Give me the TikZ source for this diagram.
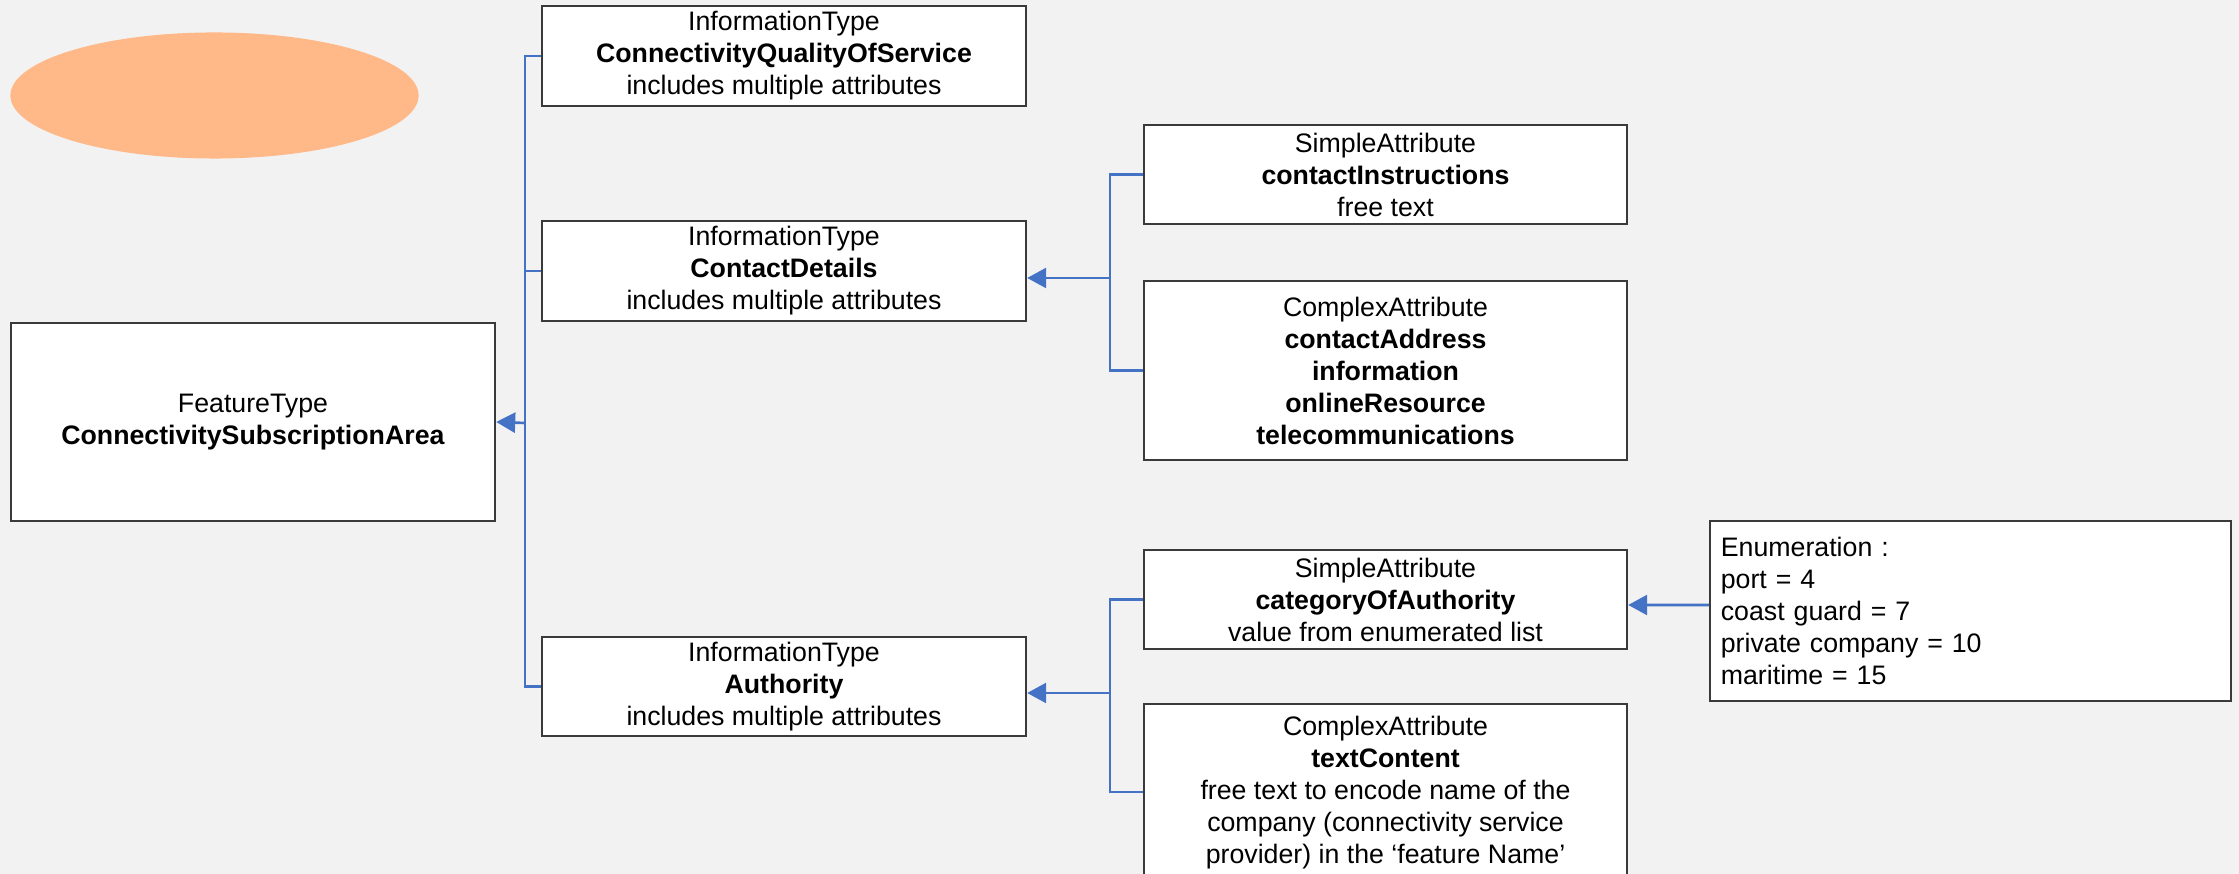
\documentclass[tikz,border=0pt]{standalone}
\usepackage{fontspec}
\setmainfont{Liberation Sans}
\usetikzlibrary{arrows.meta}
\definecolor{canvasgray}{HTML}{F2F2F2}
\definecolor{linkblue}{HTML}{4472C4}
\definecolor{blobpeach}{HTML}{FFB988}
\definecolor{framegray}{HTML}{3A3A3A}
\newcommand{\boxfont}{\fontsize{7.6}{9.1}\selectfont}

\begin{document}
\begin{tikzpicture}[x=0.01cm,y=-0.01cm,
	umlbox/.style={draw=framegray, line width=0.6pt, fill=white, align=center,
		font=\boxfont, minimum width=4.84cm, inner sep=0pt},
	wire/.style={linkblue, line width=0.75pt},
	feed/.style={wire, -{Triangle[length=0.19cm,width=0.2cm]}}]
	% Fixed grey canvas, same proportions as the sheet.
	\useasboundingbox (0,0) rectangle (2239,874);
	\fill[canvasgray] (0,0) rectangle (2239,874);

	% Unlabelled orange blob, top left.
	\fill[blobpeach] (214.5,95.5) ellipse [x radius=2.04cm, y radius=0.63cm];

	% Feature type and its information types.
	\node[umlbox, minimum height=1.98cm] (feat) at (253,422)
		{FeatureType\\\textbf{ConnectivitySubscriptionArea}};
	\node[umlbox, minimum height=1.00cm] (cqos) at (784,56)
		{InformationType\\\textbf{ConnectivityQualityOfService}\\includes multiple attributes};
	\node[umlbox, minimum height=1.00cm] (contact) at (784,271)
		{InformationType\\\textbf{ContactDetails}\\includes multiple attributes};
	\node[umlbox, minimum height=0.99cm] (auth) at (784,686.5)
		{InformationType\\\textbf{Authority}\\includes multiple attributes};

	% Attributes of ContactDetails.
	\node[umlbox, minimum width=4.83cm, minimum height=0.99cm] (instr) at (1385.5,174.5)
		{SimpleAttribute\\\textbf{contactInstructions}\\free text};
	\node[umlbox, minimum width=4.83cm, minimum height=1.79cm] (caddr) at (1385.5,370.5)
		{ComplexAttribute\\\textbf{contactAddress}\\\textbf{information}\\\textbf{onlineResource}\\\textbf{telecommunications}};

	% Attributes of Authority (the last box runs off the sheet).
	\node[umlbox, minimum width=4.83cm, minimum height=0.99cm] (catauth) at (1385.5,599.5)
		{SimpleAttribute\\\textbf{categoryOfAuthority}\\value from enumerated list};
	\node[umlbox, minimum width=4.83cm, minimum height=1.76cm, anchor=north] (textc) at (1385.5,703)
		{ComplexAttribute\\\textbf{textContent}\\free text to encode name of the\\company (connectivity service\\provider) in the ‘feature Name’};

	\node[umlbox, align=left, minimum width=5.21cm, minimum height=1.80cm,
		text width=4.99cm, inner xsep=0.11cm] (enum) at (1970.5,611)
		{Enumeration :\\port = 4\\coast guard = 7\\private company = 10\\maritime = 15};

	% Blue buses.
	\coordinate (busL) at (525,423);
	\coordinate (busM) at (1110,278);
	\coordinate (busR) at (1110,693);

	\draw[wire] (cqos.west) -| (busL) |- (auth.west);
	\draw[wire] (contact.west) -- (contact.west -| busL);
	\draw[feed] (busL) -- (feat.east);

	\draw[wire] (instr.west) -| (busM) |- (caddr.west);
	\draw[feed] (busM) -- (busM -| contact.east);

	\draw[wire] (catauth.west) -| (busR) |- (textc.west);
	\draw[feed] (busR) -- (busR -| auth.east);

	\draw[feed] ([yshift=0.06cm]enum.west) -- ([yshift=-0.055cm]catauth.east);
\end{tikzpicture}
\end{document}
